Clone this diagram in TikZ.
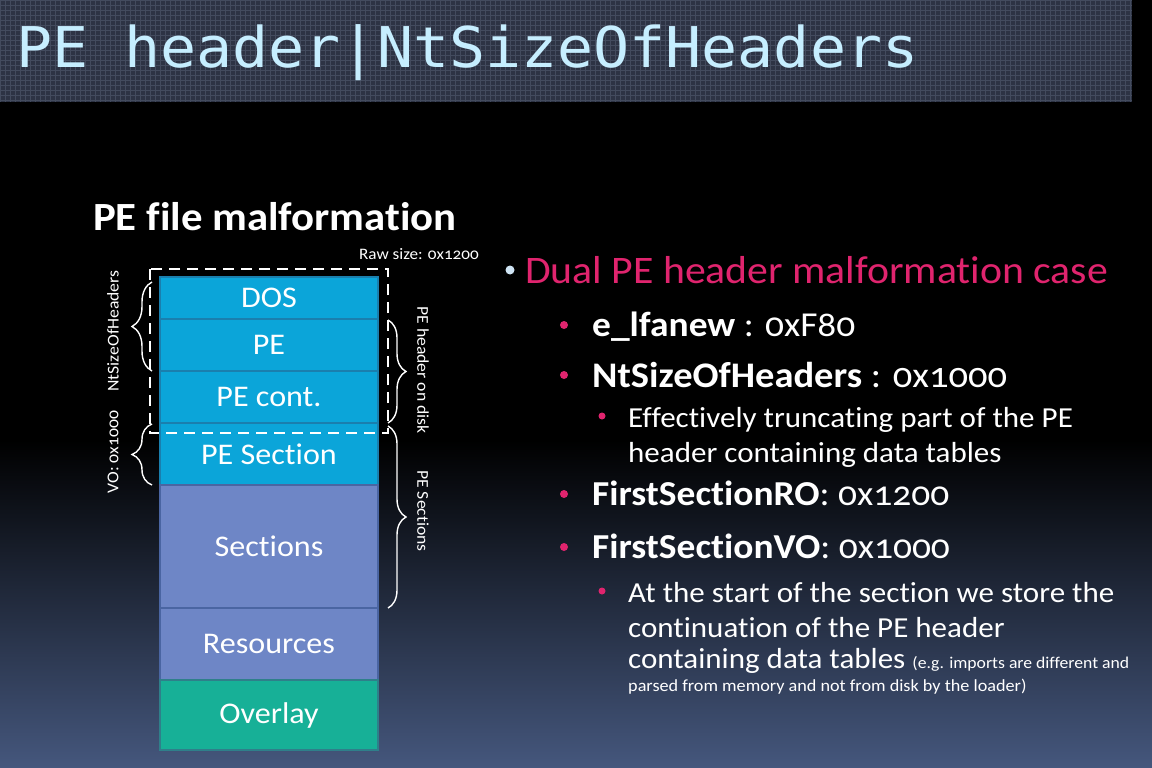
\documentclass[tikz,border=0pt]{standalone}
\usepackage{fontspec}
\setmainfont{Carlito}[Numbers=OldStyle, Ligatures={NoCommon}, FakeStretch=1.07]
\newfontfamily\titlefont{DejaVu Sans Mono}
\usetikzlibrary{decorations.pathreplacing}
\definecolor{titlebg}{HTML}{2D3344}
\definecolor{gridc}{HTML}{434B5E}
\definecolor{titlefg}{HTML}{C6EEFF}
\definecolor{cyanbox}{HTML}{0BA5D9}
\definecolor{cyanedge}{HTML}{1A7FAE}
\definecolor{bluebox}{HTML}{6E86C6}
\definecolor{blueedge}{HTML}{4A65A2}
\definecolor{tealbox}{HTML}{17B097}
\definecolor{tealedge}{HTML}{2F7F8A}
\definecolor{pinkc}{HTML}{E0246E}
\definecolor{bulletblue}{HTML}{CFE4F4}
\definecolor{bottomc}{HTML}{45577D}
\definecolor{midc}{HTML}{1A202D}
\newcommand\fsz[1]{\fontsize{#1}{#1}\selectfont}
\tikzset{
  blk/.style={draw, line width=2pt, minimum width=218pt, inner sep=0pt, outer sep=0pt, text=white, font=\fsz{30}},
  cyanblk/.style={blk, fill=cyanbox, draw=cyanedge},
  blueblk/.style={blk, fill=bluebox, draw=blueedge},
  tealblk/.style={blk, fill=tealbox, draw=tealedge},
  brc/.style={draw=white, line width=1.4pt, decorate, decoration={brace, amplitude=#1}},
  sidelbl/.style={text=white, font=\fsz{16.5}, inner sep=0pt},
  txt/.style={anchor=base west, inner sep=0pt, text=white},
  pdot/.style={circle, fill=pinkc, inner sep=0pt, minimum size=#1},
}
\begin{document}
\begin{tikzpicture}[x=1pt,y=-1pt]
\useasboundingbox (0,0) rectangle (1152,768);
% background
\fill[black] (0,0) rectangle (1152,768);
\shade[top color=black, middle color=midc, bottom color=bottomc] (0,440) rectangle (1152,768);
\fill[titlebg] (0,0) rectangle (1132,102);
\draw[gridc, line width=0.5pt, step=5pt] (0,0) grid (1132,102);
\node[anchor=base west, inner sep=0pt, text=titlefg] (title) at (16,68)
  {\scalebox{1.11}[1.04]{\titlefont\fsz{54}PE header|NtSizeOfHeaders}};

% heading
\node[txt, font=\bfseries\fsz{40}] (heading) at (93,230) {PE file malformation};

% stack
\node[cyanblk, minimum height=42pt] (dos) at (269,298) {DOS};
\node[cyanblk, minimum height=52pt] (pe) at (269,345) {PE};
\node[cyanblk, minimum height=52pt] (pecont) at (269,397) {PE cont.};
\node[cyanblk, minimum height=62pt] (pesec) at (269,454) {PE Section};
\node[blueblk, minimum height=123pt] (secs) at (269,546.5) {Sections};
\node[blueblk, minimum height=72pt] (res) at (269,644) {Resources};
\node[tealblk, minimum height=70pt] (ovl) at (269,715) {Overlay};

% dashed raw size box
\draw[white, line width=2.5pt, dash pattern=on 11pt off 7pt] (150,269) rectangle (388,433);
\node[anchor=base west, inner sep=0pt, text=white, font=\fsz{16}] (raw) at (359,259) {Raw size: 0x1200};

% braces
\coordinate (nt1) at (152,371); \coordinate (nt2) at (152,282);
\draw[brc=20pt] (nt1) -- (nt2);
\node[sidelbl, rotate=90] (ntl) at (113,331) {NtSizeOfHeaders};
\coordinate (vo1) at (152,485); \coordinate (vo2) at (152,424);
\draw[brc=20pt] (vo1) -- (vo2);
\node[sidelbl, rotate=90] (vol) at (113,452) {VO: 0x1000};
\coordinate (hd1) at (388,320); \coordinate (hd2) at (388,423);
\draw[brc=18pt] (hd1) -- (hd2);
\node[sidelbl, rotate=-90] (hdl) at (423,370) {PE header on disk};
\coordinate (ps1) at (388,426); \coordinate (ps2) at (388,608);
\draw[brc=18pt] (ps1) -- (ps2);
\node[sidelbl, rotate=-90] (psl) at (423,511) {PE Sections};

% right text
\node[circle, fill=bulletblue, inner sep=0pt, minimum size=9pt] (b0) at (510,270) {};
\node[txt, text=pinkc, font=\fsz{39}] (dual) at (525,283) {Dual PE header malformation case};
\node[pdot=8pt] (b1) at (564,325) {};
\node[txt, font=\fsz{35}] (l1) at (592,336) {\textbf{e\_lfanew} : 0xF80};
\node[pdot=8pt] (b2) at (564,375) {};
\node[txt, font=\fsz{36}] (l2) at (592,387) {\textbf{NtSizeOfHeaders} : 0x1000};
\node[pdot=7pt] (b3) at (602,416) {};
\node[txt, font=\fsz{29}] (l3) at (628,427) {Effectively truncating part of the PE};
\node[txt, font=\fsz{29}] (l4) at (628,462) {header containing data tables};
\node[pdot=8pt] (b4) at (564,494) {};
\node[txt, font=\fsz{35}] (l5) at (592,505) {\textbf{FirstSectionRO}: 0x1200};
\node[pdot=8pt] (b5) at (564,547) {};
\node[txt, font=\fsz{35}] (l6) at (592,558) {\textbf{FirstSectionVO}: 0x1000};
\node[pdot=7pt] (b6) at (602,591) {};
\node[txt, font=\fsz{29}] (l7) at (628,602) {At the start of the section we store the};
\node[txt, font=\fsz{29}] (l8) at (628,637) {continuation of the PE header};
\node[txt, font=\fsz{29}] (l9) at (628,668) {containing data tables {\fsz{16.5}(e.g. imports are different and}};
\node[txt, font=\fsz{17}] (l10) at (628,691) {parsed from memory and not from disk by the loader)};
\end{tikzpicture}
\end{document}
